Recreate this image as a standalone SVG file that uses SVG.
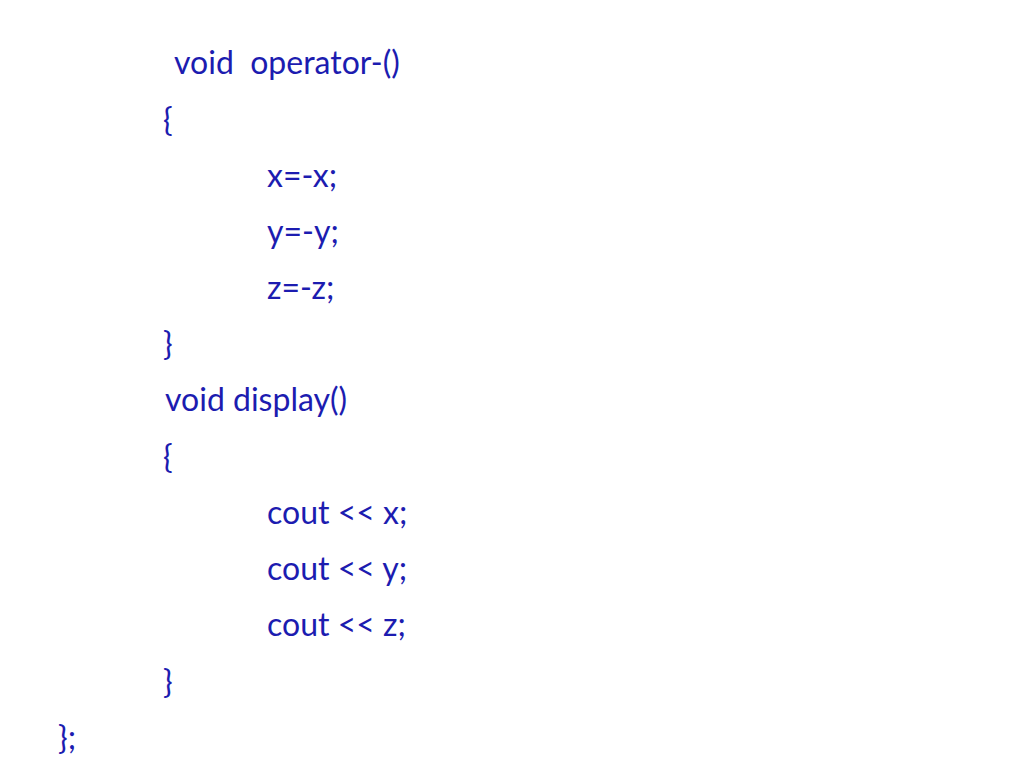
<svg xmlns="http://www.w3.org/2000/svg" width="1024" height="768" viewBox="0 0 1024 768">
<style>text{font-family:Lato,"Open Sans",sans-serif;font-size:32px;fill:#1c1cb0;white-space:pre}</style>
<rect width="1024" height="768" fill="#fff"/>
<g id="code">
<text x="174" y="74">void  operator-()</text>
<text x="163" y="131">{</text>
<text x="267" y="187">x=-x;</text>
<text x="267" y="243">y=-y;</text>
<text x="267" y="299">z=-z;</text>
<text x="163" y="355">}</text>
<text x="165" y="411">void display()</text>
<text x="163" y="468">{</text>
<text x="267" y="524">cout &lt;&lt; x;</text>
<text x="267" y="580">cout &lt;&lt; y;</text>
<text x="267" y="636">cout &lt;&lt; z;</text>
<text x="163" y="693">}</text>
<text x="58" y="749">};</text>
</g>
</svg>
